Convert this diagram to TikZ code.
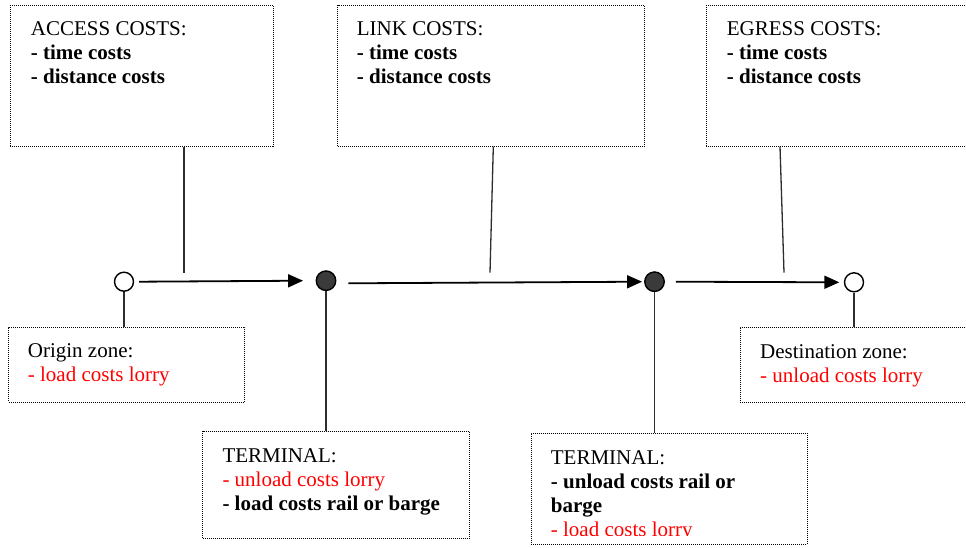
\documentclass[tikz,border=0pt]{standalone}
\usepackage{fontspec}
\setmainfont{Liberation Serif}[BoldFont={Liberation Serif Bold}]
\usetikzlibrary{arrows.meta}
\definecolor{redtxt}{RGB}{255,0,0}
\definecolor{dotfill}{RGB}{58,58,58}
\definecolor{connc}{RGB}{45,45,45}
\begin{document}
\begin{tikzpicture}[x=1pt,y=-1pt,
  box/.style={draw=black, dash pattern=on 1pt off 1pt, line width=0.9pt, anchor=north west, inner sep=0pt, rectangle},
  txt/.style={anchor=north west, inner sep=0pt, align=left, font=\fontsize{21}{24}\selectfont},
  opencirc/.style={circle, draw=black, fill=white, line width=1.4pt, minimum size=19pt, inner sep=0pt},
  fullcirc/.style={circle, draw=black, fill=dotfill, line width=1.4pt, minimum size=19.5pt, inner sep=0pt},
  arr/.style={line width=1.8pt, -{Triangle[length=15pt,width=13pt]}},
  conn/.style={draw=connc, line width=1.3pt}]
\clip (0,0) rectangle (966,547);
\fill[white] (0,0) rectangle (966,547);

% boxes
\node[box, minimum width=262.7pt, minimum height=140.7pt] (accbox) at (10,5) {};
\node[box, minimum width=306.7pt, minimum height=140.7pt] (linkbox) at (337.3,5) {};
\node[box, minimum width=280pt, minimum height=140.7pt] (egrbox) at (706,5) {};
\node[box, minimum width=236pt, minimum height=75pt] (origbox) at (8.3,326.7) {};
\node[box, minimum width=250pt, minimum height=75pt] (destbox) at (740,326.7) {};
\node[box, minimum width=267pt, minimum height=106.7pt] (tonebox) at (202.3,431) {};
\node[box, minimum width=275.7pt, minimum height=111.6pt] (ttwobox) at (531,432.7) {};

% texts
\node[txt] (acctxt) at (30.7,19.5) {\rule{0pt}{16pt}ACCESS COSTS:\\\textbf{- time costs}\\\textbf{- distance costs}};
\node[txt] (linktxt) at (356.7,19.5) {\rule{0pt}{16pt}LINK COSTS:\\\textbf{- time costs}\\\textbf{- distance costs}};
\node[txt] (egrtxt) at (726.7,19.5) {\rule{0pt}{16pt}EGRESS COSTS:\\\textbf{- time costs}\\\textbf{- distance costs}};
\node[txt] (origtxt) at (27.7,341.7) {\rule{0pt}{16pt}Origin zone:\\\textcolor{redtxt}{- load costs lorry}};
\node[txt] (desttxt) at (760,342) {\rule{0pt}{16pt}Destination zone:\\\textcolor{redtxt}{- unload costs lorry}};
\node[txt] (tonetxt) at (222.3,446) {\rule{0pt}{16pt}TERMINAL:\\\textcolor{redtxt}{- unload costs lorry}\\\textbf{- load costs rail or barge}};
\begin{scope}
\clip (531,432.7) rectangle (806.7,535.5);
\node[txt] (ttwotxt) at (550.7,448) {\rule{0pt}{16pt}TERMINAL:\\\textbf{- unload costs rail or}\\\textbf{barge}\\\textcolor{redtxt}{- load costs lorry}};
\end{scope}

% circles
\node[opencirc] (orig) at (124,281.7) {};
\node[fullcirc] (tone) at (326,280.7) {};
\node[fullcirc] (ttwo) at (654.5,281.7) {};
\node[opencirc] (dest) at (854,282.3) {};

% arrows
\draw[arr] ([xshift=5pt]orig.east) -- ([xshift=-12.5pt]tone.west);
\draw[arr] ([shift={(12pt,-2.6pt)}]tone.east) -- ([xshift=-2pt]ttwo.west);
\draw[arr] ([xshift=10.8pt]ttwo.east) -- ([xshift=-4.5pt]dest.west);

% connectors
\coordinate (accend) at (184,272.7);
\coordinate (linkend) at (490,272.7);
\coordinate (egrend) at (784,272.7);
\draw[conn] ([xshift=174pt]accbox.south west) -- (accend);
\draw[conn] ([xshift=156pt]linkbox.south west) -- (linkend);
\draw[conn] ([xshift=74pt]egrbox.south west) -- (egrend);
\draw[conn] (orig.south) -- (origbox.north -| orig.south);
\draw[conn] (tone.south) -- (tonebox.north -| tone.south);
\draw[conn] (ttwo.south) -- (ttwobox.north -| ttwo.south);
\draw[conn] (dest.south) -- (destbox.north -| dest.south);
\end{tikzpicture}
\end{document}
